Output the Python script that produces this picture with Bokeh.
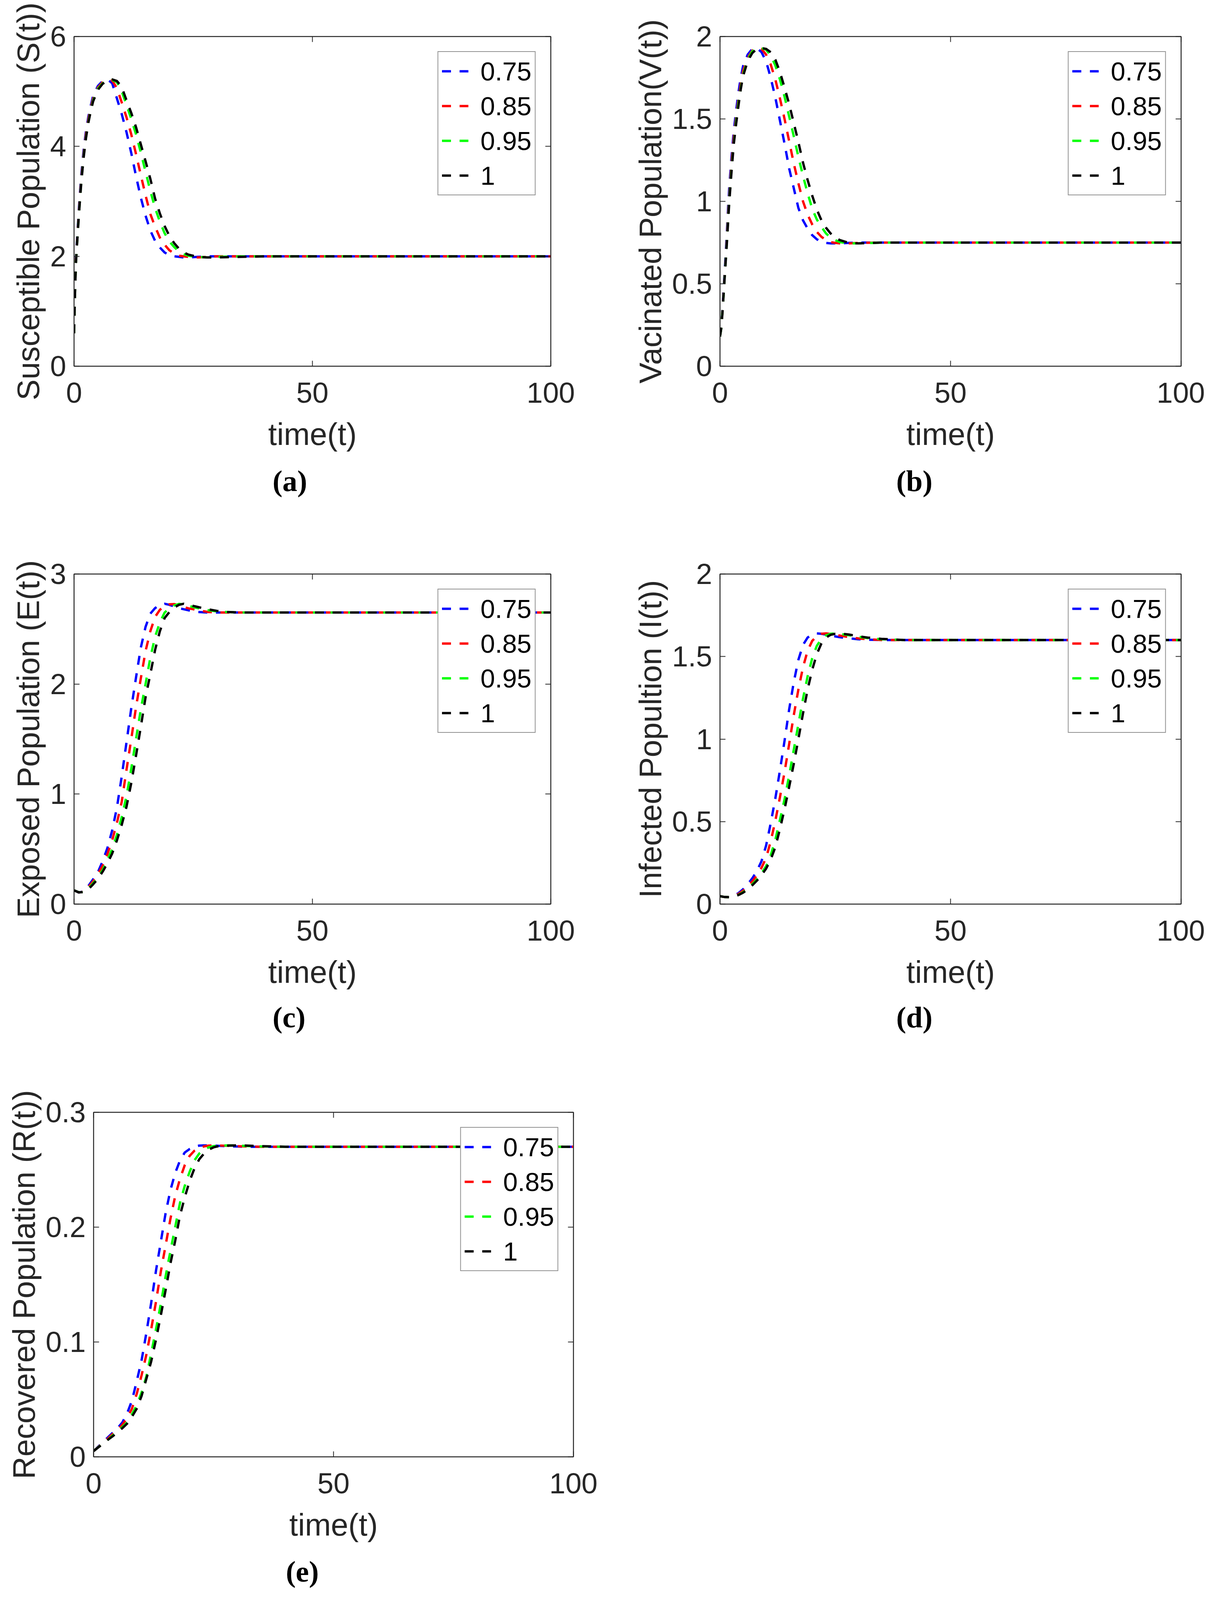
from bokeh.plotting import figure
from bokeh.models import (LinearAxis, FixedTicker, CustomJSTickFormatter, Title,
                          Range1d, Legend, LegendItem)
from bokeh.layouts import column, row
from bokeh.embed import file_html
from bokeh.resources import INLINE

# ---------------- data ----------------
ALPHA_LABELS = ["0.75", "0.85", "0.95", "1"]
COLORS = ["#0000ff", "#ff0000", "#00ff00", "#000000"]
X_TICKS = [0, 50, 100]

# (a) Susceptible
T_S = [0, 0.1, 0.2, 0.3, 0.4, 0.6, 0.8, 1, 1.25, 1.5, 2, 2.5, 3, 3.5, 4, 5, 6, 7, 8, 9,
       10, 11, 12, 13, 14, 15, 16, 17, 18, 19, 20, 21, 22, 23, 24, 26, 28, 30, 35, 40, 60, 80, 100]
S_075 = [0.60, 1.00, 1.38, 1.70, 1.98, 2.28, 2.56, 2.86, 3.17, 3.47, 3.93, 4.28, 4.54, 4.74, 4.92, 5.10,
         5.19, 5.22, 5.15, 4.87, 4.59, 4.26, 3.88, 3.46, 3.07, 2.74, 2.47, 2.28, 2.16, 2.07, 2.02, 2.00,
         1.99, 1.98, 1.98, 1.99, 2.00, 2.00, 2.00, 2.00, 2.00, 2.00, 2.00]
S_085 = [0.60, 0.98, 1.35, 1.66, 1.94, 2.23, 2.51, 2.80, 3.10, 3.40, 3.86, 4.22, 4.49, 4.70, 4.87, 5.07,
         5.17, 5.21, 5.20, 5.06, 4.80, 4.53, 4.22, 3.86, 3.48, 3.11, 2.77, 2.54, 2.34, 2.21, 2.11, 2.05,
         2.01, 2.00, 1.99, 1.98, 1.99, 2.00, 2.00, 2.00, 2.00, 2.00, 2.00]
S_095 = [0.60, 0.97, 1.32, 1.63, 1.90, 2.20, 2.47, 2.76, 3.05, 3.35, 3.82, 4.17, 4.45, 4.66, 4.84, 5.05,
         5.15, 5.20, 5.21, 5.17, 5.00, 4.76, 4.50, 4.22, 3.89, 3.54, 3.19, 2.88, 2.63, 2.42, 2.27, 2.17,
         2.09, 2.04, 2.01, 1.99, 1.98, 1.99, 2.00, 2.00, 2.00, 2.00, 2.00]
S_100 = [0.60, 0.96, 1.31, 1.61, 1.88, 2.18, 2.45, 2.73, 3.03, 3.32, 3.79, 4.15, 4.43, 4.64, 4.82, 5.03,
         5.14, 5.20, 5.22, 5.19, 5.08, 4.84, 4.61, 4.35, 4.04, 3.73, 3.41, 3.05, 2.78, 2.55, 2.37, 2.24,
         2.14, 2.07, 2.03, 1.99, 1.98, 1.98, 1.99, 2.00, 2.00, 2.00, 2.00]

# (b) Vaccinated
T_V = [0, 0.25, 0.5, 0.75, 1, 1.25, 1.5, 1.75, 2, 2.5, 3, 3.5, 4, 4.5, 5, 6, 7, 8, 9, 10, 11, 12, 13,
       14, 15, 16, 17, 18, 19, 20, 21, 22, 23, 24, 25, 26, 28, 30, 35, 40, 60, 80, 100]
V_075 = [0.18, 0.23, 0.33, 0.45, 0.57, 0.69, 0.82, 0.96, 1.08, 1.27, 1.43, 1.55, 1.66, 1.75, 1.82,
         1.89, 1.925, 1.93, 1.905, 1.85, 1.75, 1.63, 1.49, 1.35, 1.20, 1.08, 0.96, 0.885, 0.835, 0.795,
         0.77, 0.755, 0.748, 0.745, 0.745, 0.745, 0.748, 0.75, 0.75, 0.75, 0.75, 0.75, 0.75]
V_085 = [0.18, 0.23, 0.32, 0.43, 0.55, 0.66, 0.78, 0.92, 1.03, 1.23, 1.39, 1.51, 1.62, 1.71, 1.79,
         1.87, 1.915, 1.93, 1.925, 1.89, 1.83, 1.74, 1.625, 1.50, 1.365, 1.23, 1.11, 1.00, 0.92, 0.86,
         0.815, 0.785, 0.765, 0.753, 0.748, 0.745, 0.745, 0.748, 0.75, 0.75, 0.75, 0.75, 0.75]
V_095 = [0.18, 0.225, 0.32, 0.42, 0.54, 0.65, 0.76, 0.89, 1.01, 1.20, 1.36, 1.49, 1.60, 1.69, 1.77,
         1.86, 1.91, 1.928, 1.93, 1.92, 1.885, 1.825, 1.74, 1.635, 1.515, 1.395, 1.27, 1.155, 1.05, 0.955,
         0.89, 0.845, 0.805, 0.78, 0.765, 0.753, 0.745, 0.745, 0.75, 0.75, 0.75, 0.75, 0.75]
V_100 = [0.18, 0.225, 0.31, 0.42, 0.53, 0.64, 0.75, 0.87, 0.99, 1.18, 1.35, 1.47, 1.58, 1.68, 1.76,
         1.85, 1.90, 1.925, 1.93, 1.925, 1.905, 1.86, 1.785, 1.69, 1.59, 1.475, 1.36, 1.235, 1.13, 1.035,
         0.95, 0.885, 0.84, 0.805, 0.78, 0.765, 0.748, 0.745, 0.75, 0.75, 0.75, 0.75, 0.75]

# (c), (d), (e) share a time grid
T_EIR = [0, 1, 2, 3, 4, 5, 6, 7, 8, 9, 10, 11, 12, 13, 14, 15, 16, 17, 18, 19, 20, 21, 22, 23, 24, 25,
         26, 28, 30, 32, 35, 40, 60, 80, 100]

E_075 = [0.125, 0.105, 0.115, 0.165, 0.225, 0.29, 0.39, 0.51, 0.67, 0.88, 1.16, 1.47, 1.78, 2.06, 2.33,
         2.52, 2.64, 2.69, 2.72, 2.73, 2.72, 2.705, 2.69, 2.68, 2.67, 2.66, 2.655, 2.65, 2.65, 2.65, 2.65,
         2.65, 2.65, 2.65, 2.65]
E_085 = [0.125, 0.106, 0.112, 0.154, 0.207, 0.272, 0.35, 0.455, 0.58, 0.74, 0.93, 1.22, 1.50, 1.79, 2.05,
         2.30, 2.48, 2.61, 2.675, 2.71, 2.725, 2.727, 2.715, 2.70, 2.688, 2.68, 2.67, 2.656, 2.65, 2.65,
         2.65, 2.65, 2.65, 2.65, 2.65]
E_095 = [0.125, 0.107, 0.11, 0.14, 0.19, 0.24, 0.31, 0.40, 0.50, 0.63, 0.79, 0.98, 1.23, 1.50, 1.77,
         2.00, 2.24, 2.43, 2.56, 2.65, 2.69, 2.715, 2.728, 2.725, 2.712, 2.70, 2.69, 2.672, 2.66, 2.655,
         2.65, 2.65, 2.65, 2.65, 2.65]
E_100 = [0.125, 0.107, 0.109, 0.135, 0.18, 0.23, 0.295, 0.37, 0.46, 0.58, 0.72, 0.885, 1.10, 1.35, 1.61,
         1.88, 2.09, 2.31, 2.48, 2.60, 2.655, 2.695, 2.72, 2.73, 2.722, 2.71, 2.70, 2.68, 2.665, 2.655,
         2.65, 2.65, 2.65, 2.65, 2.65]

I_075 = [0.048, 0.043, 0.042, 0.050, 0.066, 0.090, 0.12, 0.156, 0.20, 0.26, 0.355, 0.49, 0.64, 0.81,
         0.99, 1.18, 1.345, 1.48, 1.57, 1.615, 1.635, 1.64, 1.638, 1.633, 1.628, 1.622, 1.617, 1.61,
         1.605, 1.602, 1.60, 1.60, 1.60, 1.60, 1.60]
I_085 = [0.048, 0.043, 0.042, 0.048, 0.061, 0.081, 0.107, 0.137, 0.174, 0.22, 0.28, 0.38, 0.505, 0.647,
         0.80, 0.97, 1.145, 1.30, 1.435, 1.535, 1.595, 1.624, 1.638, 1.64, 1.637, 1.633, 1.627, 1.617,
         1.61, 1.605, 1.60, 1.60, 1.60, 1.60, 1.60]
I_095 = [0.048, 0.043, 0.042, 0.046, 0.056, 0.072, 0.094, 0.12, 0.15, 0.186, 0.23, 0.295, 0.39, 0.51,
         0.635, 0.78, 0.935, 1.09, 1.245, 1.38, 1.49, 1.565, 1.607, 1.628, 1.638, 1.64, 1.638, 1.629,
         1.62, 1.612, 1.605, 1.60, 1.60, 1.60, 1.60]
I_100 = [0.048, 0.043, 0.042, 0.045, 0.055, 0.069, 0.089, 0.114, 0.142, 0.176, 0.215, 0.27, 0.345, 0.455,
         0.575, 0.71, 0.85, 1.00, 1.155, 1.30, 1.42, 1.515, 1.58, 1.615, 1.632, 1.638, 1.64, 1.633,
         1.623, 1.615, 1.607, 1.60, 1.60, 1.60, 1.60]

R_075 = [0.005, 0.009, 0.013, 0.017, 0.021, 0.025, 0.030, 0.038, 0.049, 0.066, 0.084, 0.108, 0.134, 0.162,
         0.187, 0.212, 0.232, 0.247, 0.258, 0.265, 0.268, 0.270, 0.271, 0.2712, 0.2712, 0.271, 0.2708,
         0.2705, 0.2702, 0.27, 0.27, 0.27, 0.27, 0.27, 0.27]
R_085 = [0.005, 0.0087, 0.0124, 0.016, 0.020, 0.0235, 0.028, 0.034, 0.042, 0.055, 0.071, 0.089, 0.111,
         0.135, 0.161, 0.184, 0.207, 0.227, 0.242, 0.254, 0.262, 0.2665, 0.269, 0.2703, 0.271, 0.2712,
         0.2711, 0.2708, 0.2705, 0.2702, 0.27, 0.27, 0.27, 0.27, 0.27]
R_095 = [0.005, 0.0085, 0.012, 0.015, 0.0187, 0.022, 0.026, 0.030, 0.037, 0.045, 0.056, 0.070, 0.090,
         0.111, 0.133, 0.157, 0.179, 0.200, 0.221, 0.236, 0.248, 0.258, 0.264, 0.2675, 0.2695, 0.2705,
         0.271, 0.2712, 0.271, 0.2707, 0.2703, 0.27, 0.27, 0.27, 0.27]
R_100 = [0.005, 0.0083, 0.0116, 0.0149, 0.018, 0.0215, 0.025, 0.029, 0.035, 0.042, 0.053, 0.068, 0.083,
         0.102, 0.123, 0.145, 0.168, 0.188, 0.21, 0.226, 0.240, 0.251, 0.259, 0.264, 0.2675, 0.2695,
         0.2705, 0.271, 0.2712, 0.271, 0.2705, 0.27, 0.27, 0.27, 0.27]

# ---------------- styling ----------------
TXT = "#262626"
FONT = "Liberation Sans"
CAP_FONT = "Liberation Serif"


def style_axis(ax, ticks, label, tick_standoff, label_standoff):
    ax.ticker = FixedTicker(ticks=ticks)
    ax.formatter = CustomJSTickFormatter(code="return String(tick);")
    ax.major_tick_in = 14
    ax.major_tick_out = 0
    ax.minor_tick_line_color = None
    ax.major_tick_line_width = 2
    ax.major_tick_line_color = TXT
    ax.axis_line_width = 2
    ax.axis_line_color = TXT
    ax.major_label_text_font = FONT
    ax.major_label_text_font_size = "74px"
    ax.major_label_text_color = TXT
    ax.major_label_standoff = tick_standoff
    ax.axis_label = label
    ax.axis_label_text_font = FONT
    ax.axis_label_text_font_size = "80px"
    ax.axis_label_text_font_style = "normal"
    ax.axis_label_text_color = TXT
    ax.axis_label_standoff = label_standoff


def mirror_axis(ticks):
    ax = LinearAxis(ticker=FixedTicker(ticks=ticks),
                    formatter=CustomJSTickFormatter(code="return '';"))
    ax.major_tick_in = 14
    ax.major_tick_out = 0
    ax.minor_tick_line_color = None
    ax.major_tick_line_width = 2
    ax.major_tick_line_color = TXT
    ax.axis_line_width = 2
    ax.axis_line_color = TXT
    ax.major_label_text_font_size = "0px"
    ax.major_label_standoff = 0
    return ax


def make_panel(t, series, ylabel, yticks, ymax, caption, width, height,
               borders, cap_offset, cap_standoff):
    left, right, top, bottom = borders
    p = figure(width=width, height=height, output_backend="svg", toolbar_location=None,
               x_range=Range1d(0, 100), y_range=Range1d(0, ymax),
               min_border_left=left, min_border_right=right,
               min_border_top=top, min_border_bottom=bottom)
    p.xgrid.visible = False
    p.ygrid.visible = False
    p.outline_line_color = TXT
    p.outline_line_width = 2
    p.background_fill_color = "white"
    p.border_fill_color = "white"

    style_axis(p.xaxis[0], X_TICKS, "time(t)", 42, 33)
    style_axis(p.yaxis[0], yticks, ylabel, 20, 8)
    p.add_layout(mirror_axis(X_TICKS), "above")
    p.add_layout(mirror_axis(yticks), "right")

    items = []
    for vals, col, lab in zip(series, COLORS, ALPHA_LABELS):
        r = p.line(t, vals, line_color=col, line_width=6, line_dash="23 22")
        items.append(LegendItem(label=lab, renderers=[r]))

    legend = Legend(items=items, location="top_right", margin=38, padding=9, spacing=9,
                    glyph_width=68, glyph_height=80, label_height=80, label_standoff=31,
                    label_text_font=FONT, label_text_font_size="67px", label_text_color="black",
                    border_line_color=TXT, border_line_width=2,
                    background_fill_color="white", background_fill_alpha=1.0)
    p.add_layout(legend)

    cap = Title(text=caption, align="left", offset=cap_offset, standoff=cap_standoff,
                text_font=CAP_FONT, text_font_size="76px", text_font_style="bold",
                text_color="black")
    p.add_layout(cap, "below")
    return p


pa = make_panel(T_S, [S_075, S_085, S_095, S_100], "Susceptible Population (S(t))",
                [0, 2, 4, 6], 6, "(a)", 1592, 1362, (189, 183, 93, 425), 508, 56)
pb = make_panel(T_V, [V_075, V_085, V_095, V_100], "Vacinated Population(V(t))",
                [0, 0.5, 1, 1.5, 2], 2, "(b)", 1491, 1362, (250, 61, 93, 425), 451, 56)
pc = make_panel(T_EIR, [E_075, E_085, E_095, E_100], "Exposed Population (E(t))",
                [0, 1, 2, 3], 3, "(c)", 1592, 1362, (189, 183, 107, 410), 508, 48)
pd = make_panel(T_EIR, [I_075, I_085, I_095, I_100], "Infected Popultion (I(t))",
                [0, 0.5, 1, 1.5, 2], 2, "(d)", 1491, 1362, (250, 61, 107, 410), 451, 48)
pe = make_panel(T_EIR, [R_075, R_085, R_095, R_100], "Recovered Population (R(t))",
                [0, 0.1, 0.2, 0.3], 0.3, "(e)", 1592, 1372, (239, 125, 123, 367), 492, 56)

layout = column(row(pa, pb), row(pc, pd), row(pe))

with open("out.html", "w") as f:
    f.write(file_html(layout, INLINE))
